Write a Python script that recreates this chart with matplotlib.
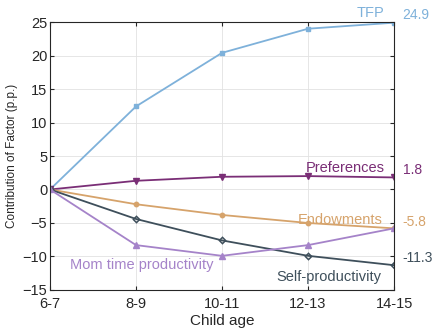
import matplotlib.pyplot as plt
import numpy as np

plt.rcParams['font.family'] = ['Liberation Sans', 'DejaVu Sans']

# Data
ages = ['6-7', '8-9', '10-11', '12-13', '14-15']
tfp = [0, 12.4, 20.4, 24.0, 24.9]
preferences = [0, 1.3, 1.9, 2.0, 1.8]
endowments = [0, -2.2, -3.8, -5.0, -5.8]
self_prod = [0, -4.4, -7.6, -9.9, -11.3]
mom_time = [0, -8.3, -9.9, -8.3, -5.8]

c_tfp = '#7eb1da'
c_pref = '#7a2e76'
c_endow = '#d6a36b'
c_self = '#3e4f5b'
c_mom = '#a583c9'

fig = plt.figure(figsize=(4.34, 3.31), dpi=100)
ax = fig.add_axes([0.1152, 0.1239, 0.7928, 0.8096])
x = np.arange(len(ages))

ax.plot(x, tfp, color=c_tfp, lw=1.3, marker='s', ms=3)
ax.plot(x, preferences, color=c_pref, lw=1.3, marker='v', ms=4.5)
ax.plot(x, endowments, color=c_endow, lw=1.3, marker='o', ms=3.2)
ax.plot(x, self_prod, color=c_self, lw=1.3, marker='D', ms=3.2, mfc='none', mew=1.1)
ax.plot(x, mom_time, color=c_mom, lw=1.3, marker='^', ms=4.5)

ax.set_xlim(0, 4)
ax.set_ylim(-15, 25)
ax.set_xticks(x)
ax.set_xticklabels(ages)
ax.set_yticks(np.arange(-15, 26, 5))
ax.tick_params(direction='in', length=3, width=0.8, top=True, right=True,
               labelsize=10.5, colors='#262626', pad=2)
ax.tick_params(axis='x', pad=5)
ax.grid(True, color='#e2e2e2', lw=0.6)
ax.set_axisbelow(True)
for s in ax.spines.values():
    s.set_color('#262626')
    s.set_linewidth(0.8)

ax.set_xlabel('Child age', fontsize=11, color='#262626', labelpad=2)
ax.set_ylabel('Contribution of Factor (p.p.)', fontsize=8.5, color='#262626', labelpad=3)

# series labels
ax.text(3.89, 26.3, 'TFP', color=c_tfp, fontsize=10.5, ha='right', va='center', clip_on=False)
ax.text(3.89, 3.2, 'Preferences', color=c_pref, fontsize=10.5, ha='right', va='center')
ax.text(3.87, -4.6, 'Endowments', color=c_endow, fontsize=10.5, ha='right', va='center')
ax.text(3.85, -13.0, 'Self-productivity', color=c_self, fontsize=10.5, ha='right', va='center')
ax.text(0.23, -11.3, 'Mom time productivity', color=c_mom, fontsize=10.5, ha='left', va='center')

# end values
ax.text(4.1, 26.0, '24.9', color=c_tfp, fontsize=10, ha='left', va='center', clip_on=False)
ax.text(4.1, 2.9, '1.8', color=c_pref, fontsize=10, ha='left', va='center', clip_on=False)
ax.text(4.1, -4.8, '-5.8', color=c_endow, fontsize=10, ha='left', va='center', clip_on=False)
ax.text(4.1, -10.2, '-11.3', color=c_self, fontsize=10, ha='left', va='center', clip_on=False)

plt.savefig('out.png', dpi=100)
